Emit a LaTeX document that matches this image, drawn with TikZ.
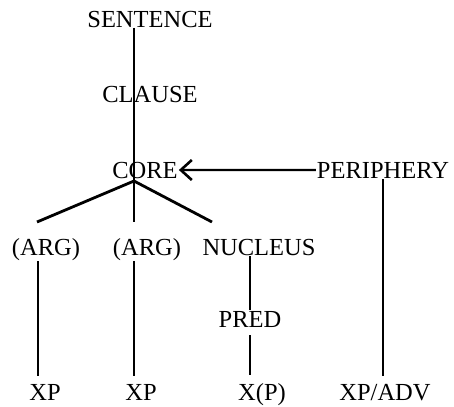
\documentclass[tikz,border=0pt]{standalone}
\usepackage{fontspec}
\setmainfont{Liberation Serif}
\usetikzlibrary{arrows.meta}

\tikzset{
	lbl/.style={anchor=base, inner sep=1pt, font=\fontsize{24.5}{29}\selectfont},
	tline/.style={line width=1.6pt},
	branch/.style={line width=2.8pt},
	arr/.style={line width=2.2pt, -{Straight Barb[length=11pt,width=20pt,line width=2.6pt]}}
}

\begin{document}
\begin{tikzpicture}[x=1pt, y=-1pt]
	\useasboundingbox (0,0) rectangle (454,406);

	\node[lbl] (sent) at (150,28) {SENTENCE};
	\node[lbl] (clause) at (150,103) {CLAUSE};
	\node[lbl] (core) at (145,178) {CORE};
	\node[lbl] (peri) at (383,178) {PERIPHERY};
	\node[lbl] (arg1) at (46,255) {(ARG)};
	\node[lbl] (arg2) at (147,255) {(ARG)};
	\node[lbl] (nuc) at (259,255) {NUCLEUS};
	\node[lbl] (pred) at (250,327) {PRED};
	\node[lbl] (xp1) at (45,400) {XP};
	\node[lbl] (xp2) at (141,400) {XP};
	\node[lbl] (xpp) at (262,400) {X(P)};
	\node[lbl] (xpadv) at (385,400) {XP/ADV};

	% columns and branch ends
	\coordinate (c1) at (38,0);
	\coordinate (c2) at (134,0);
	\coordinate (c3) at (250,0);
	\coordinate (c4) at (383,0);
	\coordinate (apex) at (134,181);
	\coordinate (lft) at (37,222);
	\coordinate (mid) at (134,222);
	\coordinate (rgt) at (212,222);

	\draw[tline] (sent.base -| c2) -- (mid);
	\draw[branch] (apex) -- (lft)
	              (apex) -- (rgt);
	\draw[arr] (peri.west) -- (core.east);

	\draw[tline, shorten >=7pt] (arg1.south -| c1) -- (xp1.north -| c1);
	\draw[tline, shorten >=7pt] (arg2.south -| c2) -- (xp2.north -| c2);
	\draw[tline] (nuc.south -| c3) -- (pred.north -| c3);
	\draw[tline, shorten <=7pt, shorten >=7pt] (pred.south -| c3) -- (xpp.north -| c3);
	\draw[tline, shorten >=7pt] (peri.south -| c4) -- (xpadv.north -| c4);
\end{tikzpicture}
\end{document}
